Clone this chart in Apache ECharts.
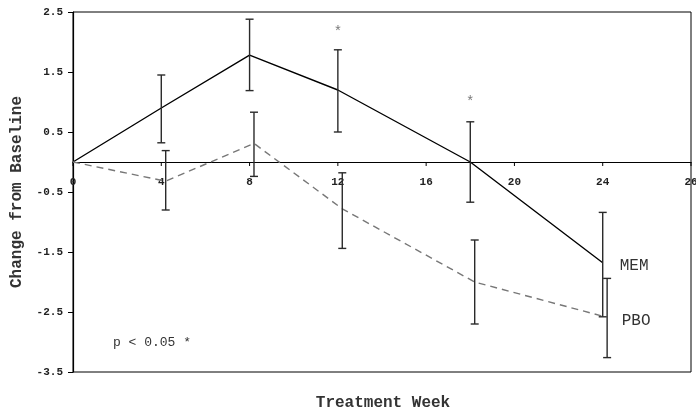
<!DOCTYPE html>
<html>
<head>
<meta charset="utf-8">
<script src="https://cdn.jsdelivr.net/npm/echarts@6/dist/echarts.min.js"></script>
<style>html,body{margin:0;padding:0;background:#fff;}#c{width:696px;height:413px;}</style>
</head>
<body>
<div id="c"></div>
<script>
// ---- data ----
const xTickValues = [0, 4, 8, 12, 16, 20, 24, 28];
const xTickLabels = ['0', '4', '8', '12', '16', '20', '24', '26'];
const yTickValues = [-3.5, -2.5, -1.5, -0.5, 0.5, 1.5, 2.5];
const yTickLabels = ['-3.5', '-2.5', '-1.5', '-0.5', '0.5', '1.5', '2.5'];

const memWeeks = [0, 4, 8, 12, 18, 24];
const memMean  = [0, 0.90, 1.78, 1.20, 0.00, -1.68];
const memBarWeeks = [4, 8, 12, 18, 24];
const memUpper = [1.45, 2.38, 1.87, 0.67, -0.84];
const memLower = [0.32, 1.19, 0.50, -0.67, -2.58];

const pboWeeks = [0, 4.2, 8.2, 12.2, 18.2, 24];
const pboMean  = [0, -0.32, 0.31, -0.78, -2.00, -2.57];
const pboBarWeeks = [4.2, 8.2, 12.2, 18.2, 24.2];
const pboUpper = [0.19, 0.83, -0.18, -1.30, -1.94];
const pboLower = [-0.80, -0.24, -1.44, -2.70, -3.26];

const starWeeks = [12, 18];
const starValues = [2.17, 0.99];

const seriesNames = ['MEM', 'PBO'];
const yTitle = 'Change from Baseline';
const xTitle = 'Treatment Week';
const note = 'p < 0.05 *';

// ---- chart ----
const FONT = '"Liberation Mono", "DejaVu Sans Mono", monospace';
function zip(a, b) { return a.map((v, i) => [v, b[i]]); }
function bars(w, lo, hi) { return w.map((v, i) => [v, lo[i], hi[i]]); }

function errorBar(params, api) {
  const x = api.value(0), lo = api.value(1), hi = api.value(2);
  const pHi = api.coord([x, hi]);
  const pLo = api.coord([x, lo]);
  const w = 4;
  const style = { stroke: '#2a2a2a', lineWidth: 1.4 };
  return {
    type: 'group',
    children: [
      { type: 'line', shape: { x1: pHi[0], y1: pHi[1], x2: pLo[0], y2: pLo[1] }, style },
      { type: 'line', shape: { x1: pHi[0] - w, y1: pHi[1], x2: pHi[0] + w, y2: pHi[1] }, style },
      { type: 'line', shape: { x1: pLo[0] - w, y1: pLo[1], x2: pLo[0] + w, y2: pLo[1] }, style }
    ]
  };
}

// x-axis ticks and labels drawn on the zero line
function zeroTick(params, api) {
  const v = api.value(0);
  const p = api.coord([v, 0]);
  return {
    type: 'group',
    children: [
      { type: 'line', shape: { x1: p[0], y1: p[1], x2: p[0], y2: p[1] + 4 }, style: { stroke: '#000', lineWidth: 1 } },
      { type: 'text', x: p[0], y: p[1] + 20,
        style: { text: xTickLabels[params.dataIndex], fontFamily: FONT, fontSize: 11, fontWeight: 'bold',
                 fill: '#222', align: 'center', verticalAlign: 'middle' } }
    ]
  };
}

const chart = echarts.init(document.getElementById('c'), null, { renderer: 'canvas' });
chart.setOption({
  animation: false,
  backgroundColor: '#fff',
  grid: { left: 73, right: 5, top: 12, bottom: 41, show: true, borderColor: '#000', borderWidth: 1, backgroundColor: 'transparent' },
  xAxis: {
    type: 'value', min: 0, max: 28, interval: 4,
    axisLine: { onZero: true, lineStyle: { color: '#000', width: 1.2 } },
    axisTick: { show: false },
    axisLabel: { show: false },
    splitLine: { show: false }
  },
  yAxis: {
    type: 'value', min: -3.5, max: 2.5,
    axisLine: { show: true, onZero: false, lineStyle: { color: '#000', width: 1.2 } },
    axisTick: { show: true, customValues: yTickValues, length: 5, lineStyle: { color: '#000' } },
    axisLabel: {
      customValues: yTickValues,
      formatter: v => yTickLabels[yTickValues.indexOf(v)],
      fontFamily: FONT, fontSize: 11, fontWeight: 'bold', color: '#222', margin: 10
    },
    splitLine: { show: false },
    name: yTitle, nameLocation: 'middle', nameRotate: 90, nameGap: 48,
    nameTextStyle: { fontFamily: FONT, fontSize: 16, fontWeight: 'bold', color: '#333' }
  },
  series: [
    {
      type: 'custom', renderItem: zeroTick, data: xTickValues.map(v => [v]),
      encode: { x: 0 }, clip: false, silent: true, z: 2
    },
    {
      name: seriesNames[0], type: 'line', data: zip(memWeeks, memMean),
      symbol: 'none', lineStyle: { color: '#000', width: 1.4 },
      endLabel: { show: true, formatter: seriesNames[0], fontFamily: FONT, fontSize: 16, color: '#333', distance: 17, offset: [0, 3] },
      z: 3
    },
    {
      name: seriesNames[1], type: 'line', data: zip(pboWeeks, pboMean),
      symbol: 'none', lineStyle: { color: '#777', width: 1.4, type: [7, 5] },
      endLabel: { show: true, formatter: seriesNames[1], fontFamily: FONT, fontSize: 16, color: '#333', distance: 19, offset: [0, 5] },
      z: 3
    },
    {
      type: 'custom', renderItem: errorBar, data: bars(memBarWeeks, memLower, memUpper),
      encode: { x: 0, y: [1, 2] }, z: 4
    },
    {
      type: 'custom', renderItem: errorBar, data: bars(pboBarWeeks, pboLower, pboUpper),
      encode: { x: 0, y: [1, 2] }, z: 4
    },
    {
      type: 'scatter', data: zip(starWeeks, starValues), symbolSize: 0,
      label: { show: true, position: 'inside', formatter: '*', fontFamily: FONT, fontSize: 14, color: '#555' }
    }
  ],
  graphic: [
    { type: 'text', x: 113, y: 343, style: { text: note, fontFamily: FONT, fontSize: 13, fill: '#333', align: 'left', verticalAlign: 'middle' } },
    { type: 'text', x: 383, y: 403, style: { text: xTitle, fontFamily: FONT, fontSize: 16, fontWeight: 'bold', fill: '#333', align: 'center', verticalAlign: 'middle' } }
  ]
});
</script>
</body>
</html>
